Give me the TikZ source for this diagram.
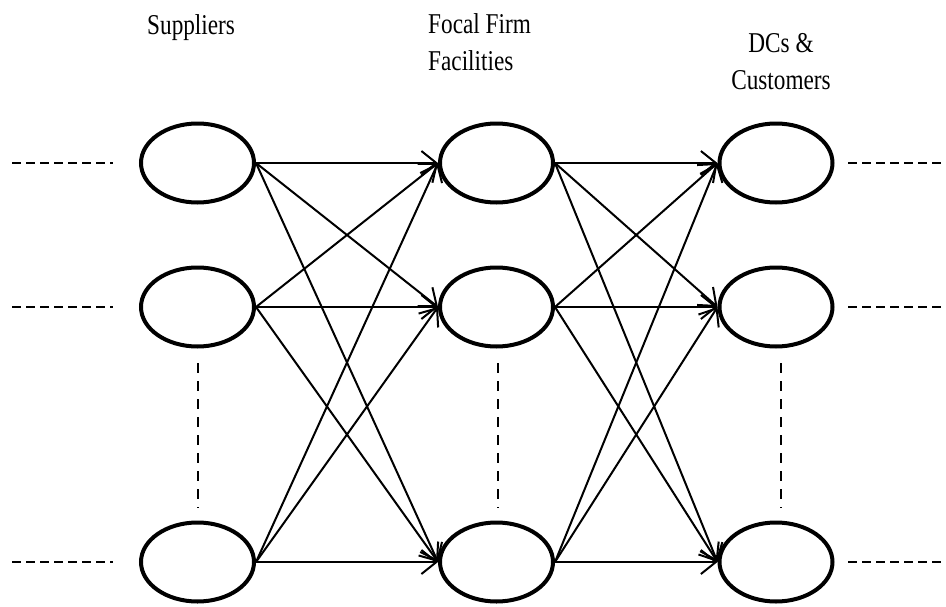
\documentclass[tikz,border=0pt]{standalone}
\usepackage{fontspec}
\setmainfont{Liberation Serif}
\newfontfamily\labelfont[FakeStretch=0.81]{Liberation Serif}
\usetikzlibrary{shapes.geometric,arrows.meta}
\begin{document}
\begin{tikzpicture}[x=1pt,y=-1pt,
  site/.style={ellipse,draw,line width=4pt,minimum width=113pt,minimum height=79pt,inner sep=0pt},
  flow/.style={line width=2pt,-{Straight Barb[length=15pt,width=24pt,line width=2pt]}},
  hdots/.style={line width=2.6pt,dash pattern=on 9pt off 5pt},
  vdots/.style={line width=2.4pt,dash pattern=on 10pt off 8pt},
  head/.style={font=\labelfont\fontsize{28.7}{37}\selectfont,inner sep=0pt,anchor=base west}]
\useasboundingbox (0,0) rectangle (946,606);

% column headings
\node[head] (hs) at (147,34) {Suppliers};
\node[head,align=left,anchor=north west] (hf) at (428,13) {Focal Firm\\Facilities};
\node[head,align=center,anchor=north] (hd) at (781,33) {DCs \&\\Customers};

% facilities
\foreach \c/\x in {s/197.5,f/496.5,d/776}{
  \foreach \r/\y in {1/163,2/307,3/562}{
    \node[site] (\c\r) at (\x,\y) {};
  }
}

% links between tiers
\foreach \a in {1,2,3}{
  \foreach \b in {1,2,3}{
    \draw[flow] (s\a.east) -- (f\b.west);
    \draw[flow] (f\a.east) -- (d\b.west);
  }
}

% continuation marks
\foreach \r/\y in {1/163,2/307,3/562}{
  \coordinate (la\r) at (12,\y);
  \coordinate (lb\r) at (113,\y);
  \coordinate (ra\r) at (848,\y);
  \coordinate (rb\r) at (946,\y);
  \draw[hdots] (la\r) -- (lb\r);
  \draw[hdots] (ra\r) -- (rb\r);
}
\foreach \c/\x in {s/198,f/498,d/781}{
  \coordinate (\c top) at (\x,363);
  \coordinate (\c bot) at (\x,508);
  \draw[vdots] (\c top) -- (\c bot);
}
\end{tikzpicture}
\end{document}
